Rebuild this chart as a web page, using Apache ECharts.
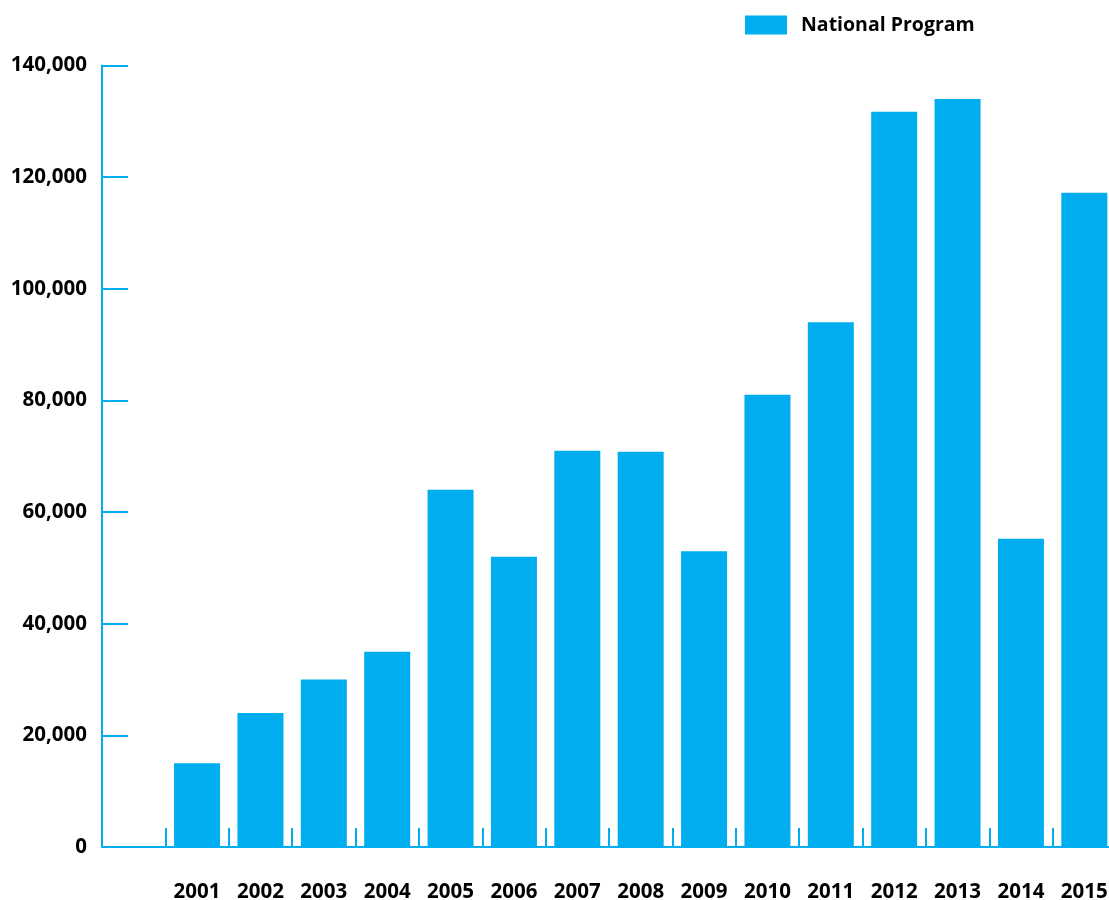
<!DOCTYPE html>
<html>
<head>
<meta charset="utf-8">
<script src="https://cdn.jsdelivr.net/npm/echarts@6/dist/echarts.min.js"></script>
<style>
html,body{margin:0;padding:0;background:#fff;}
#chart{width:1109px;height:900px;}
</style>
</head>
<body>
<div id="chart"></div>
<script>
const categories = ['', '2001','2002','2003','2004','2005','2006','2007','2008','2009','2010','2011','2012','2013','2014','2015'];
const nationalProgram = ['-', 15000, 24000, 30000, 35000, 64000, 52000, 71000, 70800, 53000, 81000, 94000, 131700, 134000, 55200, 117200];
const seriesName = 'National Program';
const yMax = 140000;
const yInterval = 20000;

const blue = '#00AEEF';
const font = '"Open Sans", "Liberation Sans", sans-serif';

const chart = echarts.init(document.getElementById('chart'), null, {renderer: 'canvas'});
chart.setOption({
  animation: false,
  backgroundColor: '#fff',
  grid: {left: 102, right: -7, top: 65.5, bottom: 53, outerBoundsMode: 'none', containLabel: false},
  legend: {
    left: 740, top: 10,
    itemWidth: 42, itemHeight: 19,
    icon: 'rect',
    data: [seriesName],
    textStyle: {fontFamily: font, fontWeight: 'bold', fontSize: 19.5, color: '#000', padding: [0,0,0,9]}
  },
  xAxis: {
    type: 'category',
    data: categories,
    boundaryGap: true,
    axisLine: {lineStyle: {color: blue, width: 2}},
    axisTick: {show: true, inside: true, length: 19, lineStyle: {color: blue, width: 2}},
    axisLabel: {fontFamily: font, fontWeight: 'bold', fontSize: 20.5, color: '#000', margin: 35, lineHeight: 20, interval: 0},
    splitLine: {show: false}
  },
  yAxis: {
    type: 'value',
    min: 0, max: yMax, interval: yInterval,
    axisLine: {show: true, lineStyle: {color: blue, width: 2}},
    axisTick: {show: true, inside: true, length: 26, lineStyle: {color: blue, width: 2}},
    axisLabel: {fontFamily: font, fontWeight: 'bold', fontSize: 20.5, color: '#000', margin: 15,
      formatter: v => v.toLocaleString('en-US')},
    splitLine: {show: false}
  },
  series: [{
    name: seriesName,
    type: 'bar',
    data: nationalProgram,
    barWidth: 46,
    itemStyle: {color: blue}
  }]
});
</script>
</body>
</html>
